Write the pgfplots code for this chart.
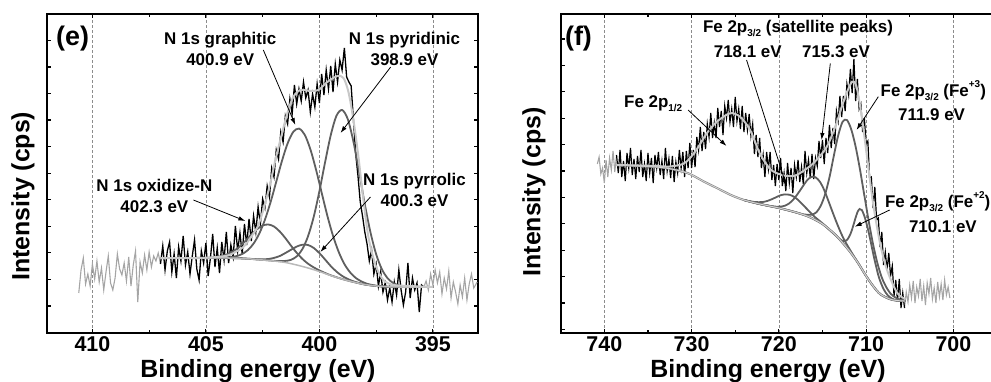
\documentclass[border=0pt]{standalone}
\usepackage{fontspec}
\setmainfont{Liberation Sans}
\usepackage{pgfplots}
\pgfplotsset{compat=1.18}
\usetikzlibrary{arrows.meta}
\definecolor{envc}{RGB}{200,200,200}
\definecolor{compc}{RGB}{95,95,95}
\definecolor{noisec}{RGB}{165,165,165}
\definecolor{bgc}{RGB}{185,185,185}
\definecolor{gridc}{RGB}{140,140,140}
\newcommand{\lo}[1]{\raisebox{-0.45ex}{\fontsize{10}{11}\selectfont #1}}
\newcommand{\hi}[1]{\raisebox{1.0ex}{\fontsize{10}{11}\selectfont #1}}
\tikzset{ann/.style={font=\fontsize{17}{21.5}\selectfont\bfseries, align=center, inner sep=0pt},
  ar/.style={line width=0.8bp, -{Latex[length=7bp,width=4.5bp]}}}
\pgfplotsset{xps/.style={
  scale only axis, height=319bp, x dir=reverse, ymin=49, ymax=368,
  enlargelimits=false, clip mode=individual,
  axis line style={line width=2bp},
  tick style={black, line width=1.2bp},
  major tick length=4bp, minor tick length=3bp,
  tick align=inside,
  yticklabels={},
  minor x tick num=1,
  xmajorgrids,
  major x grid style={gridc, line width=0.6bp, dash pattern=on 3bp off 2bp},
  xticklabel style={font=\fontsize{21.5}{24}\selectfont\bfseries},
  /pgf/number format/assume math mode=true,
  every axis x label/.style={font=\fontsize{25}{30}\selectfont\bfseries, anchor=base},
  every axis y label/.style={font=\fontsize{25}{30}\selectfont\bfseries, rotate=90, anchor=center},
}}
\begin{document}
\begin{tikzpicture}
\useasboundingbox (0,0) rectangle (991bp,382bp);
\clip (0,0) rectangle (991bp,382bp);
% ---------------- panel (e) ----------------
\begin{axis}[xps, at={(47bp,49bp)}, anchor=south west, width=431.3bp,
  xmin=393, xmax=412, xtick={395,400,405,410},
  ytick={76,102.6,129.1,155.7,182.2,208.8,235.3,261.9,288.4,315,341.5},
  xlabel={Binding energy (eV)}, ylabel={Intensity (cps)},
  xlabel style={at={(axis description cs:0.489,-0.141)}},
  ylabel style={at={(axis description cs:-0.056,0.429)}}]
\addplot[noisec, line width=1.1bp] coordinates {(410.6,89) (410.5,112) (410.4,124) (410.3,98) (410.2,108) (410.1,96) (410.0,118) (409.9,103) (409.8,121) (409.7,100) (409.6,114) (409.5,92) (409.4,110) (409.3,126) (409.2,99) (409.1,92) (409.0,104) (408.9,128) (408.8,113) (408.7,107) (408.6,119) (408.5,101) (408.4,125) (408.3,96) (408.2,117) (408.1,131) (408.0,80) (407.9,120) (407.8,109) (407.7,127) (407.6,112) (407.5,130) (407.4,115) (407.3,126) (407.2,121) (407.1,129) (407.0,118)};
\addplot[noisec, line width=1.1bp] coordinates {(395.4,95) (395.3,101) (395.2,92) (395.1,108) (395.0,97) (394.9,112) (394.8,99) (394.7,110) (394.6,88) (394.5,104) (394.4,93) (394.3,111) (394.2,84) (394.1,100) (394.0,90) (393.9,78) (393.8,97) (393.7,85) (393.6,104) (393.5,82) (393.4,98) (393.3,108) (393.2,94) (393.05,100)};
\addplot[black, line width=1.3bp] coordinates {(407.0,118) (406.9,136) (406.8,112) (406.7,131) (406.6,140) (406.5,110) (406.4,128) (406.3,104) (406.2,135) (406.1,121) (406.0,146) (405.9,117) (405.8,130) (405.7,108) (405.6,126) (405.5,142) (405.4,113) (405.3,102) (405.2,131) (405.1,119) (405.0,139) (404.9,106) (404.8,124) (404.7,148) (404.6,115) (404.5,134) (404.4,109) (404.3,140) (404.2,122) (404.1,150) (404.0,119) (403.9,137) (403.8,125) (403.7,156) (403.6,131) (403.5,149) (403.4,128) (403.3,158) (403.2,137) (403.1,163) (403.0,141) (402.9,166) (402.8,150) (402.7,175) (402.6,158) (402.5,183) (402.4,174) (402.3,196) (402.2,185) (402.1,214) (402.0,205) (401.9,232) (401.8,223) (401.7,250) (401.6,240) (401.5,266) (401.4,258) (401.3,283) (401.2,268) (401.1,297) (401.0,278) (400.9,293) (400.8,281) (400.7,300) (400.6,284) (400.5,292) (400.4,270) (400.3,288) (400.2,275) (400.1,298) (400.0,279) (399.9,308) (399.8,287) (399.7,312) (399.6,293) (399.5,316) (399.4,290) (399.3,318) (399.2,300) (399.1,322) (399.0,312) (398.9,334) (398.8,305) (398.7,300) (398.6,296) (398.5,262) (398.4,228) (398.3,206) (398.2,180) (398.1,166) (398.0,150) (397.9,138) (397.8,121) (397.7,132) (397.6,108) (397.5,118) (397.4,96) (397.3,110) (397.2,90) (397.1,99) (397.0,82) (396.9,94) (396.8,80) (396.7,100) (396.6,87) (396.5,112) (396.4,92) (396.3,77) (396.2,90) (396.1,119) (396.0,84) (395.9,104) (395.8,92) (395.7,99) (395.6,70) (395.5,97) (395.4,95)};
% components
\addplot[compc, line width=1.8bp, smooth] coordinates {(407,124) (406,124) (405,124.2) (404.75,124.5) (404.5,125.1) (404.25,126.3) (404,128.3) (403.75,131.4) (403.5,135.7) (403.25,141.3) (403,147.4) (402.75,152.8) (402.5,156.5) (402.25,157.5) (402,155.5) (401.75,150.6) (401.5,143.9) (401.25,136.3) (401,129.2) (400.75,123.1) (400.5,118.3) (400.25,114.6) (400,111.6) (399.75,109) (399.5,106.7) (399,103) (398.5,100) (398,97.5) (397.5,96) (397,95.3) (396.5,95) (395,95)};
\addplot[compc, line width=1.8bp, smooth] coordinates {(407,124) (405,124) (404.4,124.2) (404.15,124.4) (403.9,124.9) (403.65,125.9) (403.4,128.0) (403.15,131.9) (402.9,138.4) (402.65,148.3) (402.4,162.2) (402.15,179.9) (401.9,200.3) (401.65,221.0) (401.4,238.6) (401.15,250.2) (400.9,253.4) (400.65,247.4) (400.4,232.9) (400.15,212.5) (399.9,189.3) (399.65,166.3) (399.4,146.2) (399.15,130.1) (398.9,118.0) (398.65,109.7) (398.4,104.1) (398.15,100.6) (397.9,98.2) (397.65,96.9) (397.4,96.05) (397,95.3) (396.5,95) (395,95)};
\addplot[compc, line width=1.8bp, smooth] coordinates {(407,124) (404,124) (403,123) (402,121.2) (401.75,120.85) (401.5,121.1) (401.25,122.15) (401,125.6) (400.75,132.8) (400.5,145.8) (400.25,165.15) (400,190.8) (399.75,219.7) (399.5,246.8) (399.25,266.15) (399,272) (398.75,262.9) (398.5,240.3) (398.25,209.95) (398,177.8) (397.75,149.65) (397.5,127.8) (397.25,112.9) (397,103.9) (396.75,99.0) (396.5,96.6) (396.25,95.6) (396,95.2) (395,95)};
\addplot[compc, line width=1.8bp, smooth] coordinates {(407,124) (404,124) (403,123.1) (402.75,122.75) (402.5,122.66) (402.25,123) (402,124.1) (401.75,125.95) (401.5,128.95) (401.25,132.25) (401,135.4) (400.75,137.3) (400.5,137) (400.25,134.05) (400,128.9) (399.75,122.5) (399.5,115.95) (399.25,110.45) (399,106.1) (398.75,103) (398.5,100.66) (398.25,99) (398,97.6) (397.5,96) (397,95.3) (396.5,95) (395,95)};
% background
\addplot[bgc, line width=1.5bp, smooth] coordinates {(407,124) (404,124) (403.5,123.5) (403,123) (402.5,122) (402,121) (401.5,119.5) (401,117) (400.5,114) (400,110.5) (399.5,106.5) (399,103) (398.5,100) (398,97.5) (397.5,96) (397,95.3) (396.5,95) (395,95)};
% envelope
\addplot[envc, line width=2bp, smooth] coordinates {(407.0,124) (405.24,124) (404.14,126) (403.70,130) (403.35,135) (403.04,144) (402.73,155) (402.47,172) (402.16,199) (401.94,222) (401.72,242) (401.41,269) (401.15,285) (400.84,292) (400.40,291) (400.04,292) (399.65,300) (399.21,306) (398.94,304) (398.72,290) (398.50,262) (398.28,225) (398.06,182) (397.84,145) (397.53,117) (397.18,102) (396.74,97) (395.99,96) (395.0,95)};
\node[font=\fontsize{27}{30}\selectfont\bfseries, inner sep=0pt] at (axis cs:410.87,343) {(e)};
\node[ann] at (axis cs:404.37,333) {N 1s graphitic\\400.9 eV};
\node[ann] at (axis cs:396.25,333) {N 1s pyridinic\\398.9 eV};
\node[ann] at (axis cs:407.27,186) {N 1s oxidize-N\\402.3 eV};
\node[ann] at (axis cs:395.81,192) {N 1s pyrrolic\\400.3 eV};
\draw[ar] (axis cs:402.47,332) -- (axis cs:401.06,257);
\draw[ar] (axis cs:396.86,315) -- (axis cs:399.07,249);
\draw[ar] (axis cs:405.55,182) -- (axis cs:403.26,161);
\draw[ar] (axis cs:397.75,185) -- (axis cs:399.96,130);
\end{axis}
% ---------------- panel (f) ----------------
\begin{axis}[xps, at={(560.7bp,49bp)}, anchor=south west, width=436.3bp,
  xmin=695, xmax=745, xtick={700,710,720,730,740},
  ytick={52.5,78.9,105.3,131.7,158.1,184.5,210.9,237.3,263.7,290.1,316.5,342.9},
  xlabel={Binding energy (eV)}, ylabel={Intensity (cps)},
  xlabel style={at={(axis description cs:0.475,-0.141)}},
  ylabel style={at={(axis description cs:-0.0615,0.442)}}]
\addplot[noisec, line width=1.1bp] coordinates {(740.8,218) (740.6,225) (740.4,208) (740.2,214) (740.0,199) (739.8,222) (739.6,205) (739.4,224) (739.2,212) (739.0,231) (738.8,210) (738.6,227)};
\addplot[noisec, line width=1.1bp] coordinates {(705.6,74) (705.4,90) (705.2,80) (705.0,97) (704.8,84) (704.6,101) (704.4,79) (704.2,95) (704.0,86) (703.8,103) (703.6,81) (703.4,96) (703.2,77) (703.0,99) (702.8,88) (702.6,104) (702.4,83) (702.2,94) (702.0,79) (701.8,100) (701.6,85) (701.4,98) (701.2,82) (701.0,102) (700.8,87) (700.6,95) (700.4,84)};
\addplot[black, line width=1.2bp] coordinates {(738.6,227) (738.4,209) (738.2,232) (738.0,205) (737.8,221) (737.6,201) (737.4,229) (737.2,214) (737.0,234) (736.8,207) (736.6,223) (736.4,203) (736.2,226) (736.0,210) (735.8,232) (735.6,205) (735.4,218) (735.2,201) (735.0,229) (734.8,209) (734.6,224) (734.4,199) (734.2,227) (734.0,214) (733.8,230) (733.6,207) (733.4,221) (733.2,203) (733.0,234) (732.8,211) (732.6,223) (732.4,204) (732.2,226) (732.0,200) (731.8,220) (731.6,209) (731.4,232) (731.2,214) (731.0,230) (730.8,205) (730.6,231) (730.4,214) (730.2,239) (730.0,214) (729.8,232) (729.6,215) (729.4,245) (729.2,232) (729.0,255) (728.8,231) (728.6,250) (728.4,233) (728.2,258) (728.0,245) (727.8,269) (727.6,244) (727.4,259) (727.2,244) (727.0,274) (726.8,255) (726.6,271) (726.4,247) (726.2,276) (726.0,264) (725.8,282) (725.6,260) (725.4,273) (725.2,255) (725.0,285) (724.8,261) (724.6,273) (724.4,253) (724.2,276) (724.0,250) (723.8,269) (723.6,252) (723.4,268) (723.2,246) (723.0,258) (722.8,228) (722.6,247) (722.4,225) (722.2,244) (722.0,214) (721.8,227) (721.6,205) (721.4,230) (721.2,213) (721.0,230) (720.8,202) (720.6,217) (720.4,196) (720.2,218) (720.0,202) (719.8,224) (719.6,196) (719.4,209) (719.2,191) (719.0,219) (718.8,199) (718.6,214) (718.4,189) (718.2,217) (718.0,205) (717.8,222) (717.6,200) (717.4,215) (717.2,198) (717.0,231) (716.8,209) (716.6,222) (716.4,204) (716.2,228) (716.0,203) (715.8,224) (715.6,216) (715.4,241) (715.2,224) (715.0,242) (714.8,218) (714.6,244) (714.4,229) (714.2,257) (714.0,234) (713.8,254) (713.6,238) (713.4,271) (713.2,261) (713.0,286) (712.8,265) (712.6,286) (712.4,271) (712.2,298) (712.0,287) (711.8,313) (711.6,289) (711.4,323) (711.2,281) (711.0,303) (710.8,273) (710.6,278) (710.4,250) (710.2,264) (710.0,238) (709.8,241) (709.6,204) (709.4,205) (709.2,174) (709.0,195) (708.8,162) (708.6,164) (708.4,135) (708.2,150) (708.0,117) (707.8,130) (707.6,112) (707.4,129) (707.2,106) (707.0,116) (706.8,86) (706.6,102) (706.4,81) (706.2,103) (706.0,74) (705.8,89) (705.6,74)};
% components
\addplot[compc, line width=1.8bp, smooth] coordinates {(724,182) (722.2,178) (720,174) (718,169.5) (717.2,167.6) (716.7,167.2) (716.2,167.4) (715.7,169.7) (715.2,176.2) (714.7,187.7) (714.2,204.7) (713.7,226.2) (713.2,246.5) (712.7,260.1) (712.2,262) (711.7,252.5) (711.2,235.3) (710.7,212.4) (710.2,186.5) (709.7,160.85) (709.2,137.6) (708.7,118.7) (708.2,104.4) (707.7,95) (707.2,88.4) (706.7,84.8) (706.2,82.75) (705.7,81.7) (705.5,81)};
\addplot[compc, line width=1.8bp, smooth] coordinates {(724,182) (722.2,178) (720,174) (718,169.5) (716.5,165) (715,158) (714,150.5) (713.25,144.8) (713.0,142.8) (712.75,141.3) (712.5,140.7) (712.25,141.6) (712.0,144.4) (711.75,149) (711.5,155.5) (711.25,163) (711.0,169.6) (710.75,173) (710.5,172) (710.25,167.2) (710.0,160.1) (709.75,151.4) (709.5,141.45) (709.25,130.9) (709.0,121) (708.75,111.9) (708.5,103.7) (708.0,92.9) (707.5,86.5) (707.0,83.2) (706.5,81.6) (706.0,81.2) (705.5,81)};
\addplot[compc, line width=1.8bp, smooth] coordinates {(724,182) (722.2,178) (720.8,175.8) (720.3,175.3) (719.8,175.4) (719.3,176.3) (718.8,178.7) (718.3,182.9) (717.8,188.6) (717.3,195.1) (716.8,201.3) (716.3,205) (715.8,204.7) (715.3,200.3) (714.8,191.9) (714.3,180.6) (713.8,168.9) (713.3,157.7) (712.8,147.4) (712.3,138.9) (711.8,131.5) (711.3,124.4) (710.8,117.5) (710,106) (709.2,96) (708.4,88) (707.3,83) (706.5,81.5) (705.5,81)};
\addplot[compc, line width=1.8bp, smooth] coordinates {(724,182) (723.3,180.7) (722.8,180.0) (722.3,179.8) (721.8,180.05) (721.3,181.1) (720.8,182.8) (720.3,184.8) (719.8,186.75) (719.3,187.6) (718.8,187.3) (718.3,185.4) (717.8,182.1) (717.3,177.7) (716.8,173.2) (716.3,168.8) (715.8,164.45) (715.3,160.9) (714.8,157.2) (714.3,153.2) (713.5,147) (712,132) (711,120) (710,106) (709.2,96) (708.4,88) (707.3,83) (706.5,81.5) (705.5,81)};
% background (double line)
\addplot[gray, line width=0.6bp, double=bgc!60, double distance=0.9bp, smooth] coordinates {(738.6,217) (735,215.5) (733,214) (731.5,211.5) (730.2,208) (728.5,200) (727.1,194) (725.5,187) (724,182) (722.2,178) (720,174) (718,169.5) (716.5,165) (715,158) (713.5,147) (712,132) (711,120) (710,106) (709.2,96) (708.4,88) (707.3,83) (706.5,81.5) (705.5,81)};
% envelope
\addplot[envc, line width=2bp, smooth] coordinates {(738.6,217) (736,216.5) (734,216) (732.5,215.5) (731,218) (730.2,223.7) (729.3,234) (728.26,248.7) (727.1,260.3) (725.6,268.7) (724.45,265.3) (723.3,252) (722.15,228) (721.0,213) (720.0,208) (719.1,206) (718.3,206) (717.6,208.7) (716.05,218.7) (714.5,235.3) (713.4,258.7) (712.4,285.3) (711.6,300.3) (711.1,295.3) (710.5,265.3) (709.9,225.3) (709.2,178.7) (708.4,138.7) (707.6,112) (706.5,90) (705.7,83.7) (705.5,83)};
\node[font=\fontsize{27}{30}\selectfont\bfseries, inner sep=0pt] at (axis cs:742.96,343.5) {(f)};
\node[ann] at (axis cs:717.8,354) {Fe 2p\lo{3/2} (satellite peaks)};
\node[ann] at (axis cs:723.56,330) {718.1 eV};
\node[ann] at (axis cs:713.45,330) {715.3 eV};
\node[ann] at (axis cs:734.4,278) {Fe 2p\lo{1/2}};
\node[ann] at (axis cs:702.3,291) {Fe 2p\lo{3/2} (Fe\hi{+3})};
\node[ann] at (axis cs:702.5,267) {711.9 eV};
\node[ann, anchor=west] at (axis cs:707.85,180) {Fe 2p\lo{3/2} (Fe\hi{+2})};
\node[ann] at (axis cs:701.2,155) {710.1 eV};
\draw[ar] (axis cs:730.4,272) -- (axis cs:726.0,236);
\draw[ar] (axis cs:723.7,322) -- (axis cs:719.1,195.3);
\draw[ar] (axis cs:714.1,318.7) -- (axis cs:715.1,242);
\draw[ar] (axis cs:708.6,285.3) -- (axis cs:711.1,252);
\draw[ar] (axis cs:707.3,172) -- (axis cs:711.3,155.3);
\end{axis}
\end{tikzpicture}
\end{document}
